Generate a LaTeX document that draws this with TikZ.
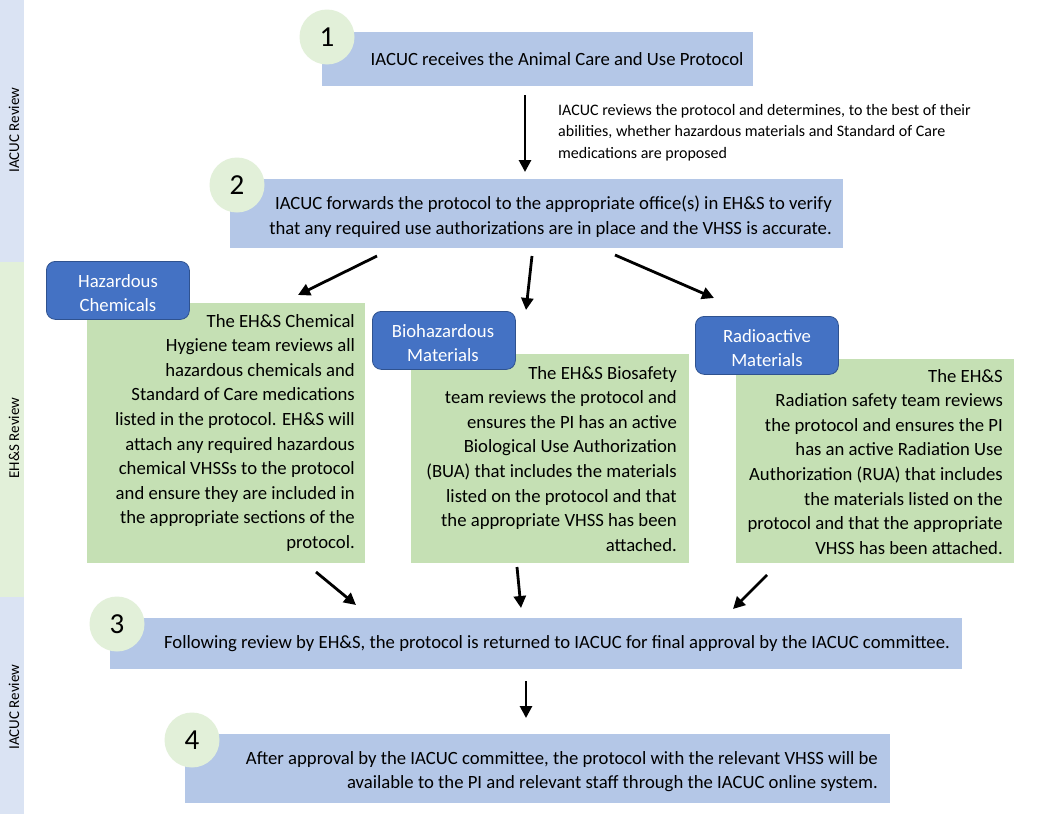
\documentclass[tikz,border=0pt]{standalone}
\usepackage{fontspec}
\setmainfont{Carlito}
\usetikzlibrary{arrows.meta}
\definecolor{sideblue}{HTML}{DAE3F3}
\definecolor{sidegreen}{HTML}{E2F0D9}
\definecolor{stepblue}{HTML}{B4C7E7}
\definecolor{numgreen}{HTML}{E2F0D9}
\definecolor{revgreen}{HTML}{C5E0B4}
\definecolor{tagblue}{HTML}{4472C4}
\definecolor{tagedge}{HTML}{2F528F}
\newcommand\bodyfont{\fontsize{18.7}{24.6}\selectfont}
\newcommand\notefont{\fontsize{16}{21.6}\selectfont}
\newcommand\sidefont{\fontsize{15}{16}\selectfont}
\newcommand\numfont{\fontsize{29}{30}\selectfont}
\begin{document}
\begin{tikzpicture}[x=1pt,y=-1pt,
  stepbox/.style={fill=stepblue, inner sep=0pt, outer sep=0pt, anchor=north west},
  revbox/.style={fill=revgreen, inner sep=0pt, outer sep=0pt, anchor=north west},
  tagbox/.style={fill=tagblue, draw=tagedge, line width=0.8pt, rounded corners=9pt,
     inner sep=0pt, anchor=north west},
  tagtext/.style={inner sep=0pt, text=white, align=center, font=\bodyfont},
  numcirc/.style={circle, fill=numgreen, minimum size=55pt, inner sep=0pt, font=\numfont},
  bodytext/.style={inner sep=0pt, font=\bodyfont, text=black},
  sidelabel/.style={rotate=90, inner sep=0pt, font=\sidefont, text=black},
  flow/.style={line width=2.8pt, -{Triangle[length=12pt,width=12pt]}}]
\useasboundingbox (0,0) rectangle (1053,814);
\fill[white] (0,0) rectangle (1053,814);
% side bands
\fill[sideblue] (0,0) rectangle (24,262);
\fill[sidegreen] (0,262) rectangle (24,597);
\fill[sideblue] (0,597) rectangle (24,814);
\node[sidelabel] (lab1) at (14,130) {IACUC Review};
\node[sidelabel] (lab2) at (14,438) {EH\&S Review};
\node[sidelabel] (lab3) at (14,707) {IACUC Review};

% step 1
\node[stepbox, minimum width=431pt, minimum height=54pt] (s1) at (322,32) {};
\node[numcirc] (n1) at (327,37) {1};
\node[bodytext] (t1) at (557,59) {IACUC receives the Animal Care and Use Protocol};

% note
\node[inner sep=0pt, font=\notefont, align=left, anchor=north west] (note) at (558,104)
  {IACUC reviews the protocol and determines, to the best of their\\
   abilities, whether hazardous materials and Standard of Care\\
   medications are proposed};

% step 2
\node[stepbox, minimum width=613pt, minimum height=69pt] (s2) at (230,179) {};
\node[numcirc] (n2) at (237,185) {2};
\node[bodytext, align=right, anchor=north east] (t2) at (832,196)
  {IACUC forwards the protocol to the appropriate office(s) in EH\&S to verify\\
   that any required use authorizations are in place and the VHSS is accurate.};

% review boxes
\node[revbox, minimum width=278pt, minimum height=260pt] (g1) at (87,303) {};
\node[tagbox, minimum width=143pt, minimum height=58pt] (h1) at (46,261) {};
\node[tagtext] (h1t) at (118,293) {Hazardous\\Chemicals};
\node[bodytext, align=right, anchor=north east] (gt1) at (355,314)
  {The EH\&S Chemical\\
   Hygiene team reviews all\\
   hazardous chemicals and\\
   Standard of Care medications\\
   listed in the protocol. EH\&S will\\
   attach any required hazardous\\
   chemical VHSSs to the protocol\\
   and ensure they are included in\\
   the appropriate sections of the\\
   protocol.};

\node[revbox, minimum width=278pt, minimum height=209pt] (g2) at (411,354) {};
\node[tagbox, minimum width=143pt, minimum height=58pt] (h2) at (372,311) {};
\node[tagtext] (h2t) at (443,343) {Biohazardous\\Materials};
\node[bodytext, align=right, anchor=north east] (gt2) at (677,366)
  {The EH\&S Biosafety\\
   team reviews the protocol and\\
   ensures the PI has an active\\
   Biological Use Authorization\\
   (BUA) that includes the materials\\
   listed on the protocol and that\\
   the appropriate VHSS has been\\
   attached.};

\node[revbox, minimum width=278pt, minimum height=204pt] (g3) at (736,359) {};
\node[tagbox, minimum width=143pt, minimum height=58pt] (h3) at (695,316) {};
\node[tagtext] (h3t) at (767,348) {Radioactive\\Materials};
\node[bodytext, align=right, anchor=north east] (gt3) at (1003,369)
  {The EH\&S\\
   Radiation safety team reviews\\
   the protocol and ensures the PI\\
   has an active Radiation Use\\
   Authorization (RUA) that includes\\
   the materials listed on the\\
   protocol and that the appropriate\\
   VHSS has been attached.};

% step 3
\node[stepbox, minimum width=852pt, minimum height=51pt] (s3) at (110,618) {};
\node[numcirc] (n3) at (117,624) {3};
\node[bodytext] (t3) at (557,644) {Following review by EH\&S, the protocol is returned to IACUC for final approval by the IACUC committee.};

% step 4
\node[stepbox, minimum width=705pt, minimum height=69pt] (s4) at (185,734) {};
\node[numcirc] (n4) at (192,740) {4};
\node[bodytext, align=right, anchor=north east] (t4) at (878,751)
  {After approval by the IACUC committee, the protocol with the relevant VHSS will be\\
   available to the PI and relevant staff through the IACUC online system.};

% arrow end points
\coordinate (a1s) at (525,95);  \coordinate (a1e) at (525,172);
\coordinate (bLs) at (377,256); \coordinate (bLe) at (298,295);
\coordinate (bMs) at (532,256); \coordinate (bMe) at (526,310);
\coordinate (bRs) at (615,255); \coordinate (bRe) at (714,298);
\coordinate (cLs) at (316,572); \coordinate (cLe) at (356,605);
\coordinate (cMs) at (517,567); \coordinate (cMe) at (521,608);
\coordinate (cRs) at (767,575); \coordinate (cRe) at (733,609);
\coordinate (d1s) at (526,681); \coordinate (d1e) at (526,718);

\draw[flow] (a1s) -- (a1e);
\draw[flow] (bLs) -- (bLe);
\draw[flow] (bMs) -- (bMe);
\draw[flow] (bRs) -- (bRe);
\draw[flow] (cLs) -- (cLe);
\draw[flow] (cMs) -- (cMe);
\draw[flow] (cRs) -- (cRe);
\draw[flow] (d1s) -- (d1e);
\end{tikzpicture}
\end{document}
